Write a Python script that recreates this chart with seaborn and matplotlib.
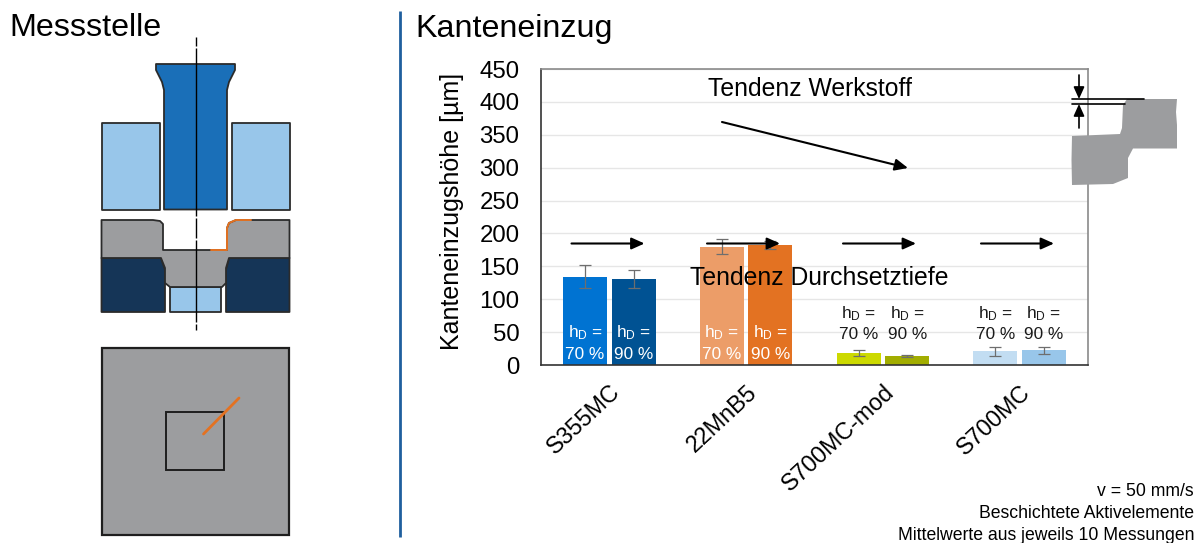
import matplotlib
matplotlib.use("Agg")
import matplotlib.pyplot as plt
from matplotlib.patches import Polygon, Rectangle
import pandas as pd
import seaborn as sns

sns.set_theme(style="white")
plt.rcParams["font.family"] = ["Liberation Sans", "DejaVu Sans"]
plt.rcParams["mathtext.default"] = "regular"

materials = ["S355MC", "22MnB5", "S700MC-mod", "S700MC"]
depths = ["70 %", "90 %"]
mean_70 = [134, 179, 18.5, 21]
mean_90 = [130, 182, 14, 22.5]
low_70 = [117, 168, 14, 13]
high_70 = [151.5, 192, 23, 28]
low_90 = [117, 176, 12.5, 16]
high_90 = [144, 188, 15.5, 28]
colors_70 = ["#0073D2", "#EC9D68", "#CCD900", "#C2DDF2"]
colors_90 = ["#005293", "#E37222", "#A2AD00", "#98C6EA"]
yticks = [0, 50, 100, 150, 200, 250, 300, 350, 400, 450]
footer = ["v = 50 mm/s", "Beschichtete Aktivelemente", "Mittelwerte aus jeweils 10 Messungen"]

df = pd.DataFrame({
    "Werkstoff": materials * 2,
    "hD": [depths[0]] * 4 + [depths[1]] * 4,
    "Kante": mean_70 + mean_90,
})

W, H = 1196, 543
fig = plt.figure(figsize=(W / 100, H / 100), dpi=100, facecolor="white")
ax = fig.add_axes([541 / W, 1 - 365 / H, 547 / W, 296 / H])
sns.barplot(data=df, x="Werkstoff", y="Kante", hue="hD", order=materials, hue_order=depths,
            width=0.71, gap=0.09, legend=False, ax=ax, errorbar=None, saturation=1)
ax.set_xlim(-0.5, 3.5)
ax.set_ylim(0, 450)
ax.set_yticks(yticks)
ax.tick_params(axis="y", labelsize=17.3, length=0, pad=15.5, labelcolor="black")
ax.set_ylabel("Kanteneinzugshöhe [µm]", fontsize=18, color="black")
ax.yaxis.set_label_coords(-0.14, 0.52)
ax.set_xlabel("")
ax.set_xticks(range(4))
ax.set_xticklabels(materials, rotation=43, ha="right", rotation_mode="anchor", fontsize=16.8, color="black")
ax.tick_params(axis="x", length=0, pad=11)
ax.grid(axis="y", color="#E6E6E6", lw=1)
ax.set_axisbelow(True)
for s, c in [("top", "#8A8A8A"), ("right", "#8A8A8A"), ("left", "#333333"), ("bottom", "#333333")]:
    ax.spines[s].set_color(c)
    ax.spines[s].set_linewidth(1.2)

series = [(colors_70, low_70, high_70, mean_70), (colors_90, low_90, high_90, mean_90)]
for cont, (cols, lows, highs, means) in zip(ax.containers, series):
    for i, (bar, col) in enumerate(zip(cont, cols)):
        bar.set_facecolor(col)
        bar.set_edgecolor("none")
        cx = bar.get_x() + bar.get_width() / 2
        ax.errorbar(cx, means[i], yerr=[[means[i] - lows[i]], [highs[i] - means[i]]],
                    color="#6E6E6E", lw=0.9, capsize=4, capthick=0.9, zorder=4)
        dark = i < 2
        label_y = 34 if dark else 64
        tc = "white" if dark else "#1A1A1A"
        depth = depths[0] if cont is ax.containers[0] else depths[1]
        ax.text(cx, label_y, "h$_{D}$ =\n" + depth, ha="center", va="center",
                fontsize=12.4, color=tc, linespacing=1.35, zorder=5)

ov = fig.add_axes([0, 0, 1, 1], zorder=10)
ov.set_xlim(0, W)
ov.set_ylim(H, 0)
ov.axis("off")
ov.patch.set_alpha(0)

EDGE = "#2B2B2B"
GRAY = "#9C9D9F"


def poly(pts, fc, lw=1.3, ec=EDGE):
    ov.add_patch(Polygon(pts, closed=True, facecolor=fc, edgecolor=ec, lw=lw, joinstyle="round"))


def arrow(x0, y0, x1, y1, lw=1.5, ms=13):
    ov.annotate("", xy=(x1, y1), xytext=(x0, y0),
                arrowprops=dict(arrowstyle="-|>,head_length=0.6,head_width=0.27", color="black",
                                lw=lw, shrinkA=0, shrinkB=0, mutation_scale=ms))


ov.text(9, 28, "Messstelle", fontsize=23.2, color="black", ha="left", va="center")
ov.text(415, 29, "Kanteneinzug", fontsize=23.2, color="black", ha="left", va="center")
ov.plot([400, 400], [11, 537], color="#1F5F9E", lw=2, solid_capstyle="butt")

# Schnittbild
poly([(156, 64), (235, 64), (235, 70), (229, 82), (227, 90), (227, 209.5),
      (164, 209.5), (164, 90), (162, 82), (156, 70)], "#1A6FB8")
poly([(101.5, 123), (159.5, 123), (159.5, 209.5), (101.5, 209.5)], "#98C6EA")
poly([(231.5, 123), (289.5, 123), (289.5, 209.5), (231.5, 209.5)], "#98C6EA")
poly([(101.5, 258), (161, 258), (165, 270), (165, 312), (101.5, 312)], "#153557")
poly([(289.5, 258), (229, 258), (226, 270), (226, 312), (289.5, 312)], "#153557")
poly([(170, 287), (221, 287), (221, 312), (170, 312)], "#98C6EA")
poly([(101.5, 220), (153, 220), (160, 221), (163, 224), (163, 250), (227, 250), (227, 228),
      (229, 223), (236, 220), (289.5, 220), (289.5, 258), (229, 258), (226, 268), (226, 283),
      (222, 287), (170, 287), (165, 283), (165, 268), (161, 258), (101.5, 258)], GRAY)
ov.plot([211, 227, 227, 229, 236, 251], [250, 250, 228, 223, 220, 220], color="#E37222", lw=1.4)
for y0, y1 in [(37, 46), (48, 216), (218, 238), (240, 322), (324, 330)]:
    ov.plot([195.5, 195.5], [y0, y1], color="black", lw=1.0, solid_capstyle="butt")

# Draufsicht
ov.add_patch(Rectangle((101.5, 348), 187, 187, facecolor=GRAY, edgecolor="#1E1E1E", lw=1.6))
ov.add_patch(Rectangle((166, 412), 58, 58, facecolor="none", edgecolor="#1E1E1E", lw=1.4))
ov.plot([203.5, 239], [434, 398], color="#E37222", lw=2)

# Detail Kanteneinzug
poly([(1127, 99), (1177, 99), (1176, 112), (1177, 125), (1177, 148.5), (1133, 148.5), (1128, 158),
      (1128, 178), (1113, 184), (1072, 185), (1071.5, 160), (1072, 136), (1120, 134), (1122, 128),
      (1123, 105)], GRAY, lw=0, ec="none")
ov.plot([1071.5, 1144], [99, 99], color="black", lw=1.2)
ov.plot([1071.5, 1125], [104, 104], color="black", lw=1.2)
arrow(1079, 75, 1079, 99, lw=1.2, ms=12)
arrow(1079, 128, 1079, 104, lw=1.2, ms=12)

# Tendenzen
arrow(722, 122, 908, 168)
for x0 in [571.5, 707, 843, 981]:
    arrow(x0, 243.5, x0 + 73, 243.5)
ov.text(810, 89, "Tendenz Werkstoff", fontsize=17.8, color="black", ha="center", va="center")
ov.text(690, 278, "Tendenz Durchsetztiefe", fontsize=17.8, color="black", ha="left", va="center")

for y, t in zip([492, 513, 536], footer):
    ov.text(1194, y, t, fontsize=12.7, color="black", ha="right", va="center")

fig.savefig("out.png", dpi=100, facecolor="white")
